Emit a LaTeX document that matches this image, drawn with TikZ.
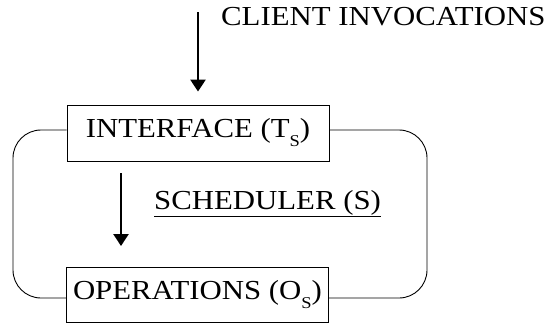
\documentclass[tikz,border=0pt]{standalone}
\usepackage{fontspec}
\setmainfont{Liberation Serif}[FakeStretch=1.12]
\usetikzlibrary{arrows.meta}
\newcommand{\mysub}[1]{\raisebox{-9pt}{\fontsize{16.5}{18}\selectfont #1}}
\tikzset{
  boxnode/.style={draw, line width=0.9pt, minimum width=262pt, minimum height=56pt, inner sep=0pt,
    font=\fontsize{27.5}{30}\selectfont},
  labelnode/.style={inner sep=0pt, font=\fontsize{27.5}{30}\selectfont},
  thickarrow/.style={line width=2.6pt, -{Triangle[width=15pt,length=12pt]}},
  loopline/.style={line width=0.9pt, rounded corners=28pt}
}
\begin{document}
\begin{tikzpicture}[x=1pt,y=-1pt]
\useasboundingbox (0,0) rectangle (547,324);
\node[boxnode] (iface) at (198,133) {INTERFACE (T\mysub{S})};
\node[boxnode, minimum height=55pt] (ops) at (197.5,294.5) {OPERATIONS (O\mysub{S})};
\node[labelnode, anchor=base west] (client) at (221,26) {CLIENT INVOCATIONS};
\node[labelnode, anchor=base west] (sched) at (154,209) {\underline{SCHEDULER (S)}};
\coordinate (topstart) at (198,12);
\coordinate (midstart) at (121,173);
\coordinate (midend) at (121,246);
\coordinate (tl) at (13,130);
\coordinate (bl) at (13,298);
\coordinate (tr) at (427,130);
\coordinate (br) at (427,298);
\draw[thickarrow, shorten >=13pt] (topstart) -- (iface.north);
\draw[thickarrow] (midstart) -- (midend);
\draw[loopline] (iface.west |- tl) -- (tl) -- (bl) -- (ops.west |- bl);
\draw[loopline] (iface.east |- tr) -- (tr) -- (br) -- (ops.east |- br);
\end{tikzpicture}
\end{document}
